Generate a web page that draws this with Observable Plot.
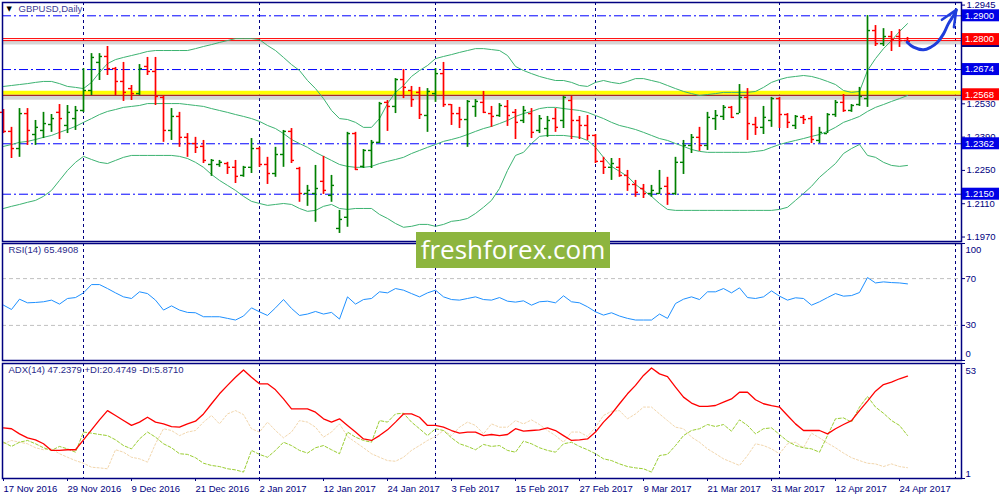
<!DOCTYPE html>
<html>
<head>
<meta charset="utf-8">
<script src="https://cdn.jsdelivr.net/npm/d3@7"></script>
<script src="https://cdn.jsdelivr.net/npm/@observablehq/plot@0.6"></script>
<style>
  html,body{margin:0;padding:0;background:#fff;}
  #chart{position:relative;width:1000px;height:500px;overflow:hidden;background:#fff;}
  #chart svg{position:absolute;left:0;overflow:visible;}
  #wm{position:absolute;left:416px;top:232px;width:194px;height:36px;background:#8DB53F;color:#fff;
      font-family:"Open Sans",sans-serif;font-size:26px;line-height:34px;text-align:center;z-index:5;}
</style>
</head>
<body>
<div id="chart"><div id="wm">freshforex.com</div></div>
<script>
// ---------------- DATA ----------------
const openP = [1.2494,1.2414,1.2342,1.2489,1.2401,1.2418,1.2443,1.2494,1.2439,1.2468,
1.2502,1.2586,1.2704,1.2729,1.2678,1.2624,1.2594,1.2573,1.2687,1.2666,
1.2557,1.2418,1.2477,1.2389,1.2363,1.2351,1.2275,1.2275,1.2279,1.2263,
1.2229,1.2263,1.2342,1.2275,1.2237,1.2317,1.2414,1.2258,1.2153,1.2153,
1.2204,1.2145,1.2006,1.2053,1.2405,1.2267,1.2334,1.2368,1.2536,1.2519,
1.2632,1.2586,1.2578,1.2481,1.2573,1.2657,1.2527,1.2489,1.2464,1.2519,
1.2536,1.2489,1.2481,1.2519,1.2494,1.2460,1.2489,1.2418,1.2426,1.2468,
1.2460,1.2544,1.2460,1.2439,1.2397,1.2288,1.2263,1.2263,1.2229,1.2191,
1.2174,1.2153,1.2153,1.2183,1.2153,1.2284,1.2355,1.2389,1.2355,1.2468,
1.2477,1.2515,1.2489,1.2557,1.2443,1.2431,1.2460,1.2552,1.2485,1.2439,
1.2473,1.2468,1.2376,1.2405,1.2485,1.2536,1.2502,1.2527,1.2552,1.2838,
1.2783,1.2813,1.2813,1.2796];
const highP = [1.2506,1.2431,1.2510,1.2510,1.2460,1.2494,1.2485,1.2527,1.2523,1.2519,
1.2678,1.2741,1.2741,1.2771,1.2683,1.2704,1.2607,1.2695,1.2725,1.2725,
1.2565,1.2510,1.2494,1.2405,1.2389,1.2376,1.2296,1.2292,1.2284,1.2292,
1.2267,1.2384,1.2347,1.2305,1.2347,1.2418,1.2426,1.2263,1.2187,1.2271,
1.2309,1.2229,1.2082,1.2410,1.2410,1.2338,1.2376,1.2536,1.2544,1.2636,
1.2674,1.2603,1.2599,1.2594,1.2678,1.2704,1.2527,1.2515,1.2544,1.2548,
1.2582,1.2519,1.2531,1.2544,1.2506,1.2519,1.2510,1.2481,1.2477,1.2510,
1.2561,1.2561,1.2477,1.2481,1.2401,1.2305,1.2300,1.2300,1.2250,1.2208,
1.2191,1.2187,1.2250,1.2221,1.2305,1.2376,1.2401,1.2431,1.2494,1.2502,
1.2523,1.2519,1.2611,1.2594,1.2473,1.2519,1.2557,1.2557,1.2489,1.2481,
1.2481,1.2477,1.2431,1.2489,1.2544,1.2569,1.2527,1.2599,1.2901,1.2859,
1.2846,1.2834,1.2842,1.2809];
const lowP = [1.2405,1.2300,1.2305,1.2355,1.2355,1.2384,1.2410,1.2380,1.2405,1.2418,
1.2494,1.2565,1.2628,1.2649,1.2565,1.2540,1.2544,1.2565,1.2649,1.2523,
1.2368,1.2376,1.2347,1.2305,1.2321,1.2279,1.2225,1.2263,1.2233,1.2195,
1.2221,1.2237,1.2263,1.2191,1.2221,1.2263,1.2279,1.2116,1.2099,1.2032,
1.2149,1.2116,1.1985,1.2011,1.2250,1.2258,1.2258,1.2363,1.2414,1.2489,
1.2552,1.2515,1.2464,1.2410,1.2536,1.2515,1.2439,1.2426,1.2347,1.2473,
1.2489,1.2431,1.2473,1.2435,1.2380,1.2447,1.2384,1.2405,1.2389,1.2410,
1.2426,1.2380,1.2380,1.2376,1.2279,1.2233,1.2208,1.2221,1.2162,1.2137,
1.2132,1.2137,1.2149,1.2103,1.2145,1.2233,1.2321,1.2330,1.2334,1.2418,
1.2460,1.2468,1.2489,1.2376,1.2397,1.2401,1.2431,1.2426,1.2426,1.2422,
1.2443,1.2363,1.2363,1.2405,1.2473,1.2494,1.2494,1.2519,1.2515,1.2771,
1.2771,1.2750,1.2767,1.2783];
const closeP = [1.2414,1.2342,1.2489,1.2418,1.2431,1.2447,1.2468,1.2468,1.2494,1.2502,
1.2586,1.2725,1.2729,1.2678,1.2624,1.2578,1.2573,1.2678,1.2666,1.2561,
1.2418,1.2477,1.2389,1.2363,1.2347,1.2292,1.2292,1.2284,1.2263,1.2225,
1.2263,1.2342,1.2275,1.2237,1.2317,1.2414,1.2292,1.2153,1.2166,1.2174,
1.2166,1.2187,1.2044,1.2405,1.2254,1.2334,1.2368,1.2531,1.2519,1.2632,
1.2599,1.2548,1.2485,1.2582,1.2657,1.2527,1.2489,1.2464,1.2540,1.2540,
1.2494,1.2477,1.2523,1.2481,1.2452,1.2502,1.2410,1.2468,1.2460,1.2431,
1.2557,1.2460,1.2439,1.2397,1.2288,1.2263,1.2279,1.2229,1.2191,1.2158,
1.2153,1.2166,1.2174,1.2153,1.2284,1.2355,1.2389,1.2355,1.2473,1.2481,
1.2515,1.2473,1.2557,1.2447,1.2431,1.2473,1.2552,1.2485,1.2452,1.2477,
1.2464,1.2380,1.2410,1.2485,1.2536,1.2502,1.2523,1.2561,1.2838,1.2783,
1.2813,1.2800,1.2796,1.2792];

const bbUpper = [1.2603,1.2607,1.2611,1.2615,1.2620,1.2624,1.2624,1.2615,1.2603,1.2599,
1.2594,1.2620,1.2662,1.2699,1.2716,1.2725,1.2733,1.2741,1.2750,1.2754,
1.2754,1.2754,1.2754,1.2754,1.2762,1.2771,1.2779,1.2788,1.2796,1.2804,
1.2804,1.2804,1.2800,1.2775,1.2754,1.2725,1.2695,1.2670,1.2628,1.2594,
1.2552,1.2502,1.2468,1.2464,1.2452,1.2431,1.2431,1.2468,1.2531,1.2578,
1.2607,1.2645,1.2670,1.2691,1.2720,1.2729,1.2737,1.2746,1.2754,1.2762,
1.2762,1.2758,1.2754,1.2733,1.2687,1.2670,1.2657,1.2645,1.2636,1.2628,
1.2628,1.2620,1.2607,1.2603,1.2620,1.2628,1.2620,1.2615,1.2624,1.2636,
1.2636,1.2628,1.2620,1.2607,1.2594,1.2582,1.2573,1.2565,1.2569,1.2573,
1.2578,1.2578,1.2578,1.2578,1.2582,1.2599,1.2620,1.2632,1.2641,1.2645,
1.2649,1.2645,1.2636,1.2624,1.2611,1.2586,1.2578,1.2582,1.2670,1.2720,
1.2762,1.2796,1.2834,1.2867];
const bbMiddle = [1.2351,1.2359,1.2368,1.2372,1.2380,1.2389,1.2397,1.2410,1.2422,1.2435,
1.2452,1.2468,1.2485,1.2498,1.2506,1.2515,1.2519,1.2523,1.2531,1.2531,
1.2531,1.2531,1.2531,1.2527,1.2523,1.2519,1.2510,1.2502,1.2494,1.2485,
1.2477,1.2468,1.2456,1.2439,1.2426,1.2405,1.2380,1.2363,1.2347,1.2326,
1.2309,1.2292,1.2275,1.2267,1.2263,1.2263,1.2267,1.2279,1.2288,1.2296,
1.2305,1.2321,1.2334,1.2347,1.2359,1.2372,1.2380,1.2389,1.2401,1.2414,
1.2426,1.2435,1.2447,1.2460,1.2477,1.2489,1.2498,1.2510,1.2515,1.2515,
1.2510,1.2506,1.2502,1.2494,1.2481,1.2468,1.2452,1.2439,1.2431,1.2422,
1.2410,1.2397,1.2384,1.2376,1.2363,1.2351,1.2338,1.2330,1.2326,1.2326,
1.2326,1.2326,1.2326,1.2326,1.2330,1.2334,1.2347,1.2359,1.2368,1.2376,
1.2384,1.2393,1.2401,1.2414,1.2431,1.2452,1.2464,1.2477,1.2498,1.2515,
1.2527,1.2540,1.2552,1.2565];
const bbLower = [1.2090,1.2099,1.2107,1.2116,1.2124,1.2141,1.2166,1.2208,1.2250,1.2284,
1.2309,1.2296,1.2284,1.2279,1.2292,1.2305,1.2313,1.2313,1.2313,1.2313,
1.2313,1.2313,1.2309,1.2300,1.2284,1.2263,1.2233,1.2208,1.2187,1.2166,
1.2141,1.2120,1.2111,1.2103,1.2107,1.2111,1.2107,1.2090,1.2078,1.2082,
1.2099,1.2107,1.2090,1.2086,1.2090,1.2090,1.2090,1.2065,1.2048,1.2027,
1.2011,1.2015,1.2023,1.2023,1.2015,1.2023,1.2036,1.2040,1.2048,1.2069,
1.2095,1.2124,1.2174,1.2250,1.2313,1.2326,1.2363,1.2393,1.2397,1.2397,
1.2397,1.2393,1.2389,1.2376,1.2347,1.2305,1.2267,1.2246,1.2225,1.2191,
1.2166,1.2141,1.2111,1.2086,1.2082,1.2082,1.2082,1.2082,1.2082,1.2082,
1.2082,1.2082,1.2082,1.2082,1.2082,1.2082,1.2082,1.2086,1.2095,1.2124,
1.2153,1.2183,1.2221,1.2250,1.2279,1.2321,1.2342,1.2359,1.2313,1.2305,
1.2284,1.2271,1.2267,1.2271];

const rsi = [47.3,43.6,52.4,49.3,49.6,50.2,51.6,48.2,53.0,53.8,
57.8,64.9,64.9,61.5,57.8,54.4,53.0,58.7,57.2,51.6,
43.1,46.7,43.1,41.1,40.8,37.4,37.4,37.4,36.0,34.6,
38.0,45.0,41.6,38.5,45.0,52.1,44.5,38.5,39.7,41.9,
39.7,41.1,35.4,54.4,48.2,52.1,53.0,58.7,57.8,61.5,
60.1,57.2,54.4,57.8,60.1,54.4,52.1,51.6,53.0,54.4,
52.1,51.6,53.8,50.7,49.9,51.0,47.3,50.2,50.7,49.3,
55.3,50.2,49.3,45.9,41.6,38.8,40.8,38.0,36.0,34.6,
34.6,34.6,39.7,36.0,48.7,52.4,54.4,52.1,58.7,58.7,
61.5,57.8,62.1,53.8,53.0,54.4,59.5,55.0,51.6,53.6,
53.0,47.3,50.2,53.8,57.2,55.0,55.5,58.1,70.9,66.3,
67.2,66.6,66.3,65.49];

const adx = [23.9,23.5,21.2,19.4,18.5,16.7,13.7,13.7,14.0,14.0,
18.5,23.0,27.5,31.7,29.5,27.2,25.0,26.5,28.7,26.5,
25.7,24.5,24.2,25.7,26.9,30.2,34.8,39.3,43.1,46.8,
50.1,46.8,43.8,43.8,41.1,37.0,32.5,32.5,32.5,31.0,
28.0,26.5,28.0,25.0,22.0,18.9,18.2,20.4,23.0,26.5,
30.2,30.2,28.7,25.0,25.0,24.2,22.7,21.5,22.0,22.0,
20.4,20.9,20.4,20.9,23.5,22.4,22.7,23.0,23.9,22.7,
20.4,18.2,18.5,18.9,22.0,26.5,30.2,34.8,39.3,43.1,
47.6,51.0,48.3,47.1,42.3,37.8,35.1,33.6,33.6,34.0,
35.5,37.0,40.0,40.0,36.6,34.8,34.0,33.3,29.5,25.7,
22.7,22.7,22.7,21.2,23.5,25.4,27.2,31.7,36.0,40.5,
43.5,44.6,46.1,47.24];
const plusDI = [17.4,15.5,17.4,18.2,16.7,14.9,13.7,15.5,14.4,12.9,
22.0,21.5,20.9,20.4,18.5,15.9,14.4,18.9,22.0,19.7,
16.7,14.9,12.2,11.9,10.4,7.9,6.9,6.4,5.4,4.9,
3.9,13.7,11.9,10.6,13.7,17.4,15.9,13.7,12.5,14.9,
15.9,14.0,12.2,22.0,19.7,18.2,17.4,27.2,26.5,30.2,
30.5,26.5,23.5,20.4,23.5,22.7,19.4,16.7,15.5,14.0,
16.4,15.5,15.9,13.7,12.9,17.9,16.7,14.9,13.7,12.9,
16.7,17.4,15.5,14.0,12.2,9.9,9.1,7.6,6.4,5.8,
5.4,3.9,11.4,11.9,15.9,20.4,22.7,23.5,25.4,24.5,
25.4,22.4,27.5,25.0,21.2,23.5,23.9,20.9,17.9,15.9,
14.9,14.4,12.9,20.4,28.0,28.4,26.5,33.3,38.1,33.3,
30.5,27.2,25.0,20.47];
const minusDI = [16.7,18.2,17.4,16.7,14.9,14.0,14.4,12.2,10.6,9.1,
7.9,6.1,5.8,5.4,14.0,12.9,10.6,9.9,8.4,16.7,
23.5,22.7,20.4,22.0,22.7,26.5,29.5,25.7,30.2,31.7,
29.9,23.5,22.0,26.5,22.7,19.4,22.0,27.2,26.5,24.2,
19.7,22.0,25.7,20.0,17.4,14.9,12.2,10.6,9.1,8.8,
10.6,13.7,15.9,18.2,20.0,22.7,20.4,24.2,26.5,25.0,
21.2,25.7,24.2,24.2,27.2,25.7,27.5,25.4,22.7,20.4,
17.4,22.0,22.0,20.0,24.2,29.5,31.4,31.7,28.0,30.2,
33.3,33.3,30.2,27.2,24.2,23.5,19.7,17.4,14.4,12.2,
9.9,8.4,6.9,11.4,16.7,15.9,14.4,12.2,16.7,17.4,
14.9,21.5,19.4,17.0,14.9,12.5,10.4,9.1,7.9,7.6,
6.4,7.6,6.4,5.87];

const dateLabels = ["17 Nov 2016","29 Nov 2016","9 Dec 2016","21 Dec 2016","2 Jan 2017","12 Jan 2017",
  "24 Jan 2017","3 Feb 2017","15 Feb 2017","27 Feb 2017","9 Mar 2017","21 Mar 2017","31 Mar 2017",
  "12 Apr 2017","24 Apr 2017"];
const dateIdx = [0,8,16,24,32,40,48,56,64,72,80,88,96,104,112];
const separatorIdx = [10,32,54,74,97,119];
const priceTicks = [1.1970,1.2110,1.2250,1.2390,1.2530,1.2945];
const dashLevels = [1.2900,1.2674,1.2362,1.2150];
const redLevel = [1.2800];
const yellowLevel = [1.2568];
const rsiLevels = [30,70];
const rsiTicks = [0,30,70,100];
const adxTicks = [1,53];
const arrowIdx = [112.96,113.75,115.0,115.9,116.75,117.5,118.1,118.75,119.1];
const arrowP   = [1.2789,1.2768,1.2757,1.2768,1.2789,1.2824,1.2866,1.2901,1.2925];
const arrowHeadIdx = [117.3,119.1,118.8];
const arrowHeadP   = [1.2883,1.2925,1.2852];
const mainTitle = "GBPUSD,Daily";
const rsiTitle = "RSI(14) 65.4908";
const adxTitle = "ADX(14) 47.2379 +DI:20.4749 -DI:5.8710";

// ---------------- STYLE ----------------
const navy = "#000080";
const font = "'Liberation Sans', Arial, sans-serif";
const xDomain = [-0.125, 119.75];
const tickLen = 0.375;
const bull = "#008000", bear = "#FF0000", band = "#3CB371";

function base(h, mt, mb) {
  return {width: 1000, height: h, marginLeft: 2, marginRight: 39, marginTop: mt, marginBottom: mb,
    style: {fontFamily: font, fontSize: "9.5px", color: navy, background: "transparent", overflow: "visible"}};
}
const idx = (d, i) => i;
const bars = closeP.map((c, i) => ({i, o: openP[i], h: highP[i], l: lowP[i], c}));
const upBars = bars.filter(d => d.c >= d.o), dnBars = bars.filter(d => d.c < d.o);
function ohlc(data, color) {
  return [
    Plot.ruleX(data, {x: "i", y1: "l", y2: "h", stroke: color, strokeWidth: 1.7}),
    Plot.ruleY(data, {y: "o", x1: d => d.i - tickLen, x2: "i", stroke: color, strokeWidth: 1.4}),
    Plot.ruleY(data, {y: "c", x1: "i", x2: d => d.i + tickLen, stroke: color, strokeWidth: 1.4})
  ];
}

// ---------------- MAIN PANEL ----------------
const main = Plot.plot({
  ...base(242, 2, 1),
  x: {domain: xDomain, axis: null},
  y: {domain: [1.19512, 1.29559]},
  marks: [
    Plot.ruleX(separatorIdx, {stroke: navy, strokeDasharray: "3,3"}),
    Plot.ruleY(dashLevels, {stroke: "#0000FF", strokeDasharray: "9,3,2,3"}),
    Plot.ruleY(redLevel, {stroke: "#888", strokeOpacity: 0.35, strokeWidth: 4, dy: 3}),
    Plot.ruleY(redLevel, {stroke: "#FF0000", dy: -1}),
    Plot.ruleY(redLevel, {stroke: "#FF0000", dy: 1}),
    Plot.ruleY(yellowLevel, {stroke: "#888", strokeOpacity: 0.35, strokeWidth: 4, dy: 3}),
    Plot.ruleY(yellowLevel, {stroke: "#FFFF00", strokeWidth: 4, dy: -2}),
    Plot.ruleY(yellowLevel, {stroke: "#A52A2A", strokeWidth: 1.2, dy: 0.6}),
    Plot.line(bbUpper, {x: idx, y: d => d, stroke: band, strokeWidth: 1}),
    Plot.line(bbMiddle, {x: idx, y: d => d, stroke: band, strokeWidth: 1}),
    Plot.line(bbLower, {x: idx, y: d => d, stroke: band, strokeWidth: 1}),
    ...ohlc(upBars, bull),
    ...ohlc(dnBars, bear),
    Plot.line(arrowP, {x: (d, i) => arrowIdx[i], y: d => d, curve: "catmull-rom", stroke: "#1E3DDB", strokeWidth: 3}),
    Plot.line(arrowHeadP, {x: (d, i) => arrowHeadIdx[i], y: d => d, stroke: "#1E3DDB", strokeWidth: 2.5}),
    Plot.frame({stroke: navy, strokeWidth: 1.5}),
    Plot.axisY({anchor: "right", ticks: priceTicks, tickFormat: d3.format(".4f"), tickSize: 3, tickPadding: 2, label: null}),
    Plot.text(["\u25BC"], {frameAnchor: "top-left", dx: 4, dy: 4, lineAnchor: "top", textAnchor: "start", fontSize: 7, fill: "#000", fontFamily: "DejaVu Sans"}),
    Plot.text([mainTitle], {frameAnchor: "top-left", dx: 16, dy: 3, lineAnchor: "top", textAnchor: "start", fill: "#3B3B95", fontSize: 9.5})
  ]
});
main.style.top = "0px";
document.getElementById("chart").appendChild(main);

// value boxes on the price axis
(function () {
  const y = main.scale("y");
  const g = d3.select(main).append("g")
    .attr("font-family", font).attr("font-size", 9.5).attr("text-anchor", "start");
  const fmt = d3.format(".4f");
  const lastC = closeP[closeP.length - 1];
  g.append("rect").attr("x", 962).attr("y", y.apply(lastC) - 6).attr("width", 37).attr("height", 12).attr("fill", navy);
  const put = (v, fill) => {
    const yy = y.apply(v);
    g.append("rect").attr("x", 962).attr("y", yy - 6).attr("width", 37).attr("height", 12).attr("fill", fill);
    g.append("text").attr("x", 965).attr("y", yy).attr("dy", "0.35em").attr("fill", "#fff")
      .attr("text-anchor", "start").text(fmt(v));
  };
  dashLevels.forEach(v => put(v, "#0000E6"));
  redLevel.concat(yellowLevel).forEach(v => put(v, "#FF0000"));
})();

// ---------------- RSI PANEL ----------------
const rsiPlot = Plot.plot({
  ...base(119, 1, 1),
  x: {domain: xDomain, axis: null},
  y: {domain: [0, 100]},
  marks: [
    Plot.ruleX(separatorIdx, {stroke: navy, strokeDasharray: "3,3"}),
    Plot.ruleY(rsiLevels, {stroke: "#C0C0C0", strokeDasharray: "4,3"}),
    Plot.line(rsi, {x: idx, y: d => d, stroke: "#1E90FF", strokeWidth: 1}),
    Plot.frame({stroke: navy, strokeWidth: 1.5}),
    Plot.axisY({anchor: "right", ticks: rsiTicks, tickFormat: () => "", tickSize: 3, label: null}),
    Plot.text(rsiLevels, {y: d => d, text: d => String(d), frameAnchor: "right", dx: 4, textAnchor: "start", fill: navy}),
    Plot.text([rsiTicks[3]], {y: d => d, text: d => String(d), frameAnchor: "right", dx: 4, dy: 6, textAnchor: "start", fill: navy}),
    Plot.text([rsiTicks[0]], {y: d => d, text: d => String(d), frameAnchor: "right", dx: 4, dy: -7, textAnchor: "start", fill: navy}),
    Plot.text([rsiTitle], {frameAnchor: "top-left", dx: 6, dy: 3, lineAnchor: "top", textAnchor: "start", fill: "#2A2A8A"})
  ]
});
rsiPlot.style.top = "242px";
document.getElementById("chart").appendChild(rsiPlot);

// ---------------- ADX PANEL ----------------
const adxPlot = Plot.plot({
  ...base(139, 2, 22),
  x: {domain: xDomain},
  y: {domain: [1, 53]},
  marks: [
    Plot.ruleX(separatorIdx, {stroke: navy, strokeDasharray: "3,3"}),
    Plot.line(minusDI, {x: idx, y: d => d, stroke: "#F2D6AC", strokeWidth: 1, strokeDasharray: "2,2"}),
    Plot.line(plusDI, {x: idx, y: d => d, stroke: "#9ACD32", strokeWidth: 1, strokeDasharray: "3,2"}),
    Plot.line(adx, {x: idx, y: d => d, stroke: "#FF0000", strokeWidth: 1.3}),
    Plot.frame({stroke: navy, strokeWidth: 1.5}),
    Plot.axisY({anchor: "right", ticks: adxTicks, tickFormat: () => "", tickSize: 3, label: null}),
    Plot.text([adxTicks[1]], {y: d => d, text: d => String(d), frameAnchor: "right", dx: 4, dy: 7, textAnchor: "start", fill: navy}),
    Plot.text([adxTicks[0]], {y: d => d, text: d => String(d), frameAnchor: "right", dx: 4, dy: -5, textAnchor: "start", fill: navy}),
    Plot.axisX({anchor: "bottom", ticks: dateIdx, tickFormat: d => dateLabels[dateIdx.indexOf(d)],
      textAnchor: "start", tickSize: 3, tickPadding: 4, label: null}),
    Plot.text([adxTitle], {frameAnchor: "top-left", dx: 6, dy: 3, lineAnchor: "top", textAnchor: "start", fill: "#2A2A8A"})
  ]
});
adxPlot.style.top = "361px";
document.getElementById("chart").appendChild(adxPlot);
</script>
</body>
</html>
